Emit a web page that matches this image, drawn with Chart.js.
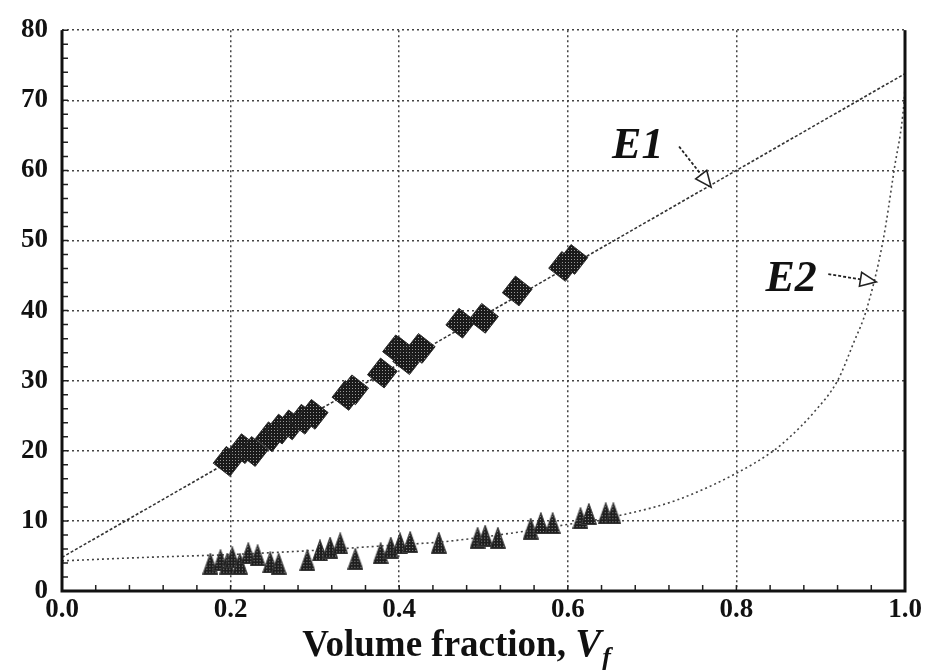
<!DOCTYPE html>
<html>
<head>
<meta charset="utf-8">
<script src="https://cdn.jsdelivr.net/npm/chart.js@4/dist/chart.umd.min.js"></script>
<style>
  html, body { margin: 0; padding: 0; background: #fff; }
  #wrap { width: 932px; height: 671px; }
</style>
</head>
<body>
<div id="wrap"><canvas id="chart" width="932" height="671"></canvas></div>
<script>
// tick labels
const xTickLabels = ["0.0", "0.2", "0.4", "0.6", "0.8", "1.0"];
const yTickLabels = ["0", "10", "20", "30", "40", "50", "60", "70", "80"];

// E1 model line (straight)
const e1LineVf = [0.0, 1.0];
const e1LineE = [4.8, 73.8];

// E2 model curve
const e2LineVf = [0.0, 0.1, 0.2, 0.3, 0.4, 0.45, 0.53, 0.6, 0.67, 0.73, 0.8, 0.844, 0.861, 0.892, 0.92, 0.939, 0.954, 0.974, 0.987, 0.999, 1.0];
const e2LineE = [4.3, 4.8, 5.2, 5.8, 6.6, 7.0, 8.2, 9.5, 11.0, 13.0, 16.8, 20.0, 21.7, 25.5, 30.0, 35.4, 40.0, 50.0, 60.0, 70.0, 72.0];

// measured E1 (diamonds)
const e1PointsVf = [0.197, 0.215, 0.227, 0.247, 0.259, 0.271, 0.286, 0.298, 0.338, 0.346, 0.380, 0.398, 0.401, 0.410, 0.425, 0.473, 0.500, 0.540, 0.595, 0.606];
const e1PointsE = [18.5, 20.3, 19.9, 22.0, 23.1, 23.7, 24.5, 25.2, 27.9, 28.7, 31.1, 34.4, 34.2, 33.0, 34.6, 38.2, 38.9, 42.8, 46.3, 47.3];

// measured E2 (triangles)
const e2PointsVf = [0.176, 0.188, 0.196, 0.202, 0.211, 0.221, 0.232, 0.247, 0.257, 0.291, 0.306, 0.318, 0.330, 0.348, 0.378, 0.390, 0.401, 0.413, 0.447, 0.493, 0.502, 0.517, 0.556, 0.568, 0.582, 0.615, 0.625, 0.645, 0.654];
const e2PointsE = [3.9, 4.4, 3.9, 4.8, 3.9, 5.4, 5.1, 4.1, 3.9, 4.4, 5.8, 6.2, 6.8, 4.6, 5.4, 6.2, 6.8, 7.0, 6.9, 7.6, 7.9, 7.6, 8.9, 9.7, 9.7, 10.4, 11.0, 11.1, 11.1];

const minorStepX = 0.04;
const minorStepY = 2;

const toXY = (xs, ys) => xs.map((x, i) => ({ x: x, y: ys[i] }));

// halftone fill like the scanned markers
function halftone(ink) {
  const c = document.createElement("canvas");
  c.width = 3;
  c.height = 3;
  const g = c.getContext("2d");
  g.fillStyle = ink;
  g.fillRect(0, 0, 3, 3);
  g.fillStyle = "#9a9a9a";
  g.fillRect(1, 1, 1, 1);
  return g.createPattern(c, "repeat");
}

// tall narrow triangle marker, as in the scan
function triangleMarker(w, h) {
  const c = document.createElement("canvas");
  c.width = w;
  c.height = h;
  const g = c.getContext("2d");
  g.beginPath();
  g.moveTo(w / 2, 0.5);
  g.lineTo(w - 0.5, h - 0.5);
  g.lineTo(0.5, h - 0.5);
  g.closePath();
  g.fillStyle = halftone("#1e1e1e");
  g.fill();
  g.strokeStyle = "#3a3a3a";
  g.lineWidth = 1;
  g.stroke();
  return c;
}

const tickFont = { family: "'Liberation Serif', 'DejaVu Serif', serif", size: 27, weight: "bold" };

// frame, minor ticks, labels and arrows
const decorPlugin = {
  id: "decor",
  afterDraw(chart) {
    const ctx = chart.ctx;
    const xs = chart.scales.x;
    const ys = chart.scales.y;
    const a = chart.chartArea;
    ctx.save();

    // minor ticks pointing inward
    ctx.strokeStyle = "#222";
    ctx.lineWidth = 1.5;
    ctx.beginPath();
    for (let v = 0; v <= 80.001; v += minorStepY) {
      const py = ys.getPixelForValue(v);
      ctx.moveTo(a.left, py);
      ctx.lineTo(a.left + 6, py);
    }
    for (let v = 0; v <= 1.0001; v += minorStepX) {
      const px = xs.getPixelForValue(v);
      ctx.moveTo(px, a.bottom);
      ctx.lineTo(px, a.bottom - 6);
    }
    ctx.stroke();

    // heavy frame on left, bottom, right
    ctx.strokeStyle = "#111";
    ctx.lineWidth = 3;
    ctx.beginPath();
    ctx.moveTo(a.left, a.top);
    ctx.lineTo(a.left, a.bottom);
    ctx.lineTo(a.right, a.bottom);
    ctx.lineTo(a.right, a.top);
    ctx.stroke();

    // curve labels with arrows
    ctx.fillStyle = "#111";
    ctx.font = "italic bold 44px 'Liberation Serif', 'DejaVu Serif', serif";
    ctx.textAlign = "center";
    ctx.textBaseline = "alphabetic";
    ctx.fillText("E1", xs.getPixelForValue(0.683), ys.getPixelForValue(61.7));
    ctx.fillText("E2", xs.getPixelForValue(0.865), ys.getPixelForValue(42.8));

    drawArrow(ctx, xs.getPixelForValue(0.732), ys.getPixelForValue(63.4), xs.getPixelForValue(0.770), ys.getPixelForValue(57.6));
    drawArrow(ctx, xs.getPixelForValue(0.909), ys.getPixelForValue(45.2), xs.getPixelForValue(0.966), ys.getPixelForValue(44.1));

    // axis title with italic V and subscript f
    const base = 656;
    const mainFont = "bold 37px 'Liberation Serif', 'DejaVu Serif', serif";
    const vFont = "italic bold 39px 'Liberation Serif', 'DejaVu Serif', serif";
    const fFont = "italic bold 26px 'Liberation Serif', 'DejaVu Serif', serif";
    const t1 = "Volume fraction, ";
    ctx.font = mainFont;
    const w1 = ctx.measureText(t1).width;
    ctx.font = vFont;
    const w2 = ctx.measureText("V").width;
    ctx.font = fFont;
    const w3 = ctx.measureText("f").width;
    const total = w1 + w2 + w3 + 2;
    let x0 = 457 - total / 2;
    ctx.textAlign = "left";
    ctx.font = mainFont;
    ctx.fillText(t1, x0, base);
    ctx.font = vFont;
    ctx.fillText("V", x0 + w1, base);
    ctx.font = fFont;
    ctx.fillText("f", x0 + w1 + w2 + 1, base + 9);

    ctx.restore();
  }
};

function drawArrow(ctx, x1, y1, x2, y2) {
  const ang = Math.atan2(y2 - y1, x2 - x1);
  const headLen = 16;
  const headW = 7;
  const bx = x2 - headLen * Math.cos(ang);
  const by = y2 - headLen * Math.sin(ang);
  ctx.save();
  ctx.strokeStyle = "#222";
  ctx.lineWidth = 1.8;
  ctx.setLineDash([3, 2]);
  ctx.beginPath();
  ctx.moveTo(x1, y1);
  ctx.lineTo(bx, by);
  ctx.stroke();
  ctx.setLineDash([]);
  ctx.lineWidth = 1.6;
  ctx.beginPath();
  ctx.moveTo(x2, y2);
  ctx.lineTo(bx + headW * Math.sin(ang), by - headW * Math.cos(ang));
  ctx.lineTo(bx - headW * Math.sin(ang), by + headW * Math.cos(ang));
  ctx.closePath();
  ctx.fillStyle = "#fff";
  ctx.fill();
  ctx.stroke();
  ctx.restore();
}

const ctx = document.getElementById("chart").getContext("2d");
const chart = new Chart(ctx, {
  type: "scatter",
  data: {
    datasets: [
      {
        label: "E1 model",
        data: toXY(e1LineVf, e1LineE),
        showLine: true,
        borderColor: "#333",
        borderWidth: 1.6,
        borderDash: [3, 2],
        pointRadius: 0,
        order: 3,
      },
      {
        label: "E2 model",
        data: toXY(e2LineVf, e2LineE),
        showLine: true,
        cubicInterpolationMode: "monotone",
        borderColor: "#444",
        borderWidth: 1.6,
        borderDash: [2, 3],
        pointRadius: 0,
        order: 3,
      },
      {
        label: "E1 measured",
        data: toXY(e1PointsVf, e1PointsE),
        pointStyle: "rect",
        rotation: 38,
        radius: 15,
        backgroundColor: halftone("#1a1a1a"),
        borderColor: "#2a2a2a",
        borderWidth: 1,
        order: 1,
      },
      {
        label: "E2 measured",
        data: toXY(e2PointsVf, e2PointsE),
        pointStyle: triangleMarker(16, 22),
        radius: 10,
        order: 2,
      },
    ],
  },
  options: {
    responsive: false,
    animation: false,
    layout: { padding: { top: 23, right: 27, bottom: 0, left: 0 } },
    plugins: {
      legend: { display: false },
      tooltip: { enabled: false },
    },
    scales: {
      x: {
        type: "linear",
        min: 0,
        max: 1,
        afterFit: (s) => { s.height = 80; },
        ticks: {
          stepSize: 0.2,
          padding: 3,
          color: "#111",
          font: tickFont,
          callback: (v, i) => xTickLabels[i],
        },
        grid: { color: "#444", lineWidth: 1.5, drawTicks: false },
        border: { display: false, dash: [2, 3] },
      },
      y: {
        type: "linear",
        min: 0,
        max: 80,
        afterFit: (s) => { s.width = 62; },
        ticks: {
          stepSize: 10,
          padding: 14,
          color: "#111",
          font: tickFont,
          callback: (v, i) => yTickLabels[i],
        },
        grid: { color: "#444", lineWidth: 1.5, drawTicks: false },
        border: { display: false, dash: [2, 3] },
      },
    },
  },
  plugins: [decorPlugin],
});
</script>
</body>
</html>
